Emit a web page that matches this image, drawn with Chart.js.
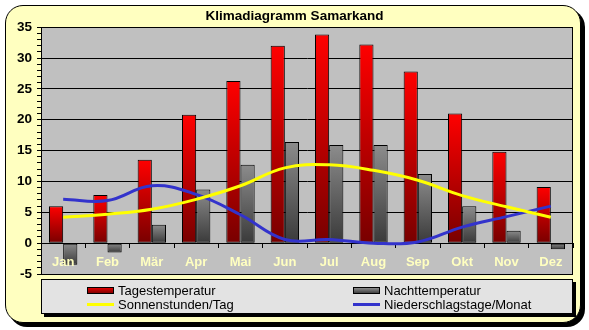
<!DOCTYPE html>
<html>
<head>
<meta charset="utf-8">
<script src="https://cdn.jsdelivr.net/npm/chart.js@4/dist/chart.umd.min.js"></script>
<style>
  html, body { margin: 0; padding: 0; background: #ffffff; }
  #wrap { position: relative; width: 589px; height: 330px; overflow: hidden; font-family: "Liberation Sans", Arial, sans-serif; }
  #frame { position: absolute; left: 5px; top: 5px; width: 574px; height: 316px; border: 1px solid #000; border-radius: 18px; background: #ffffc0; box-shadow: 4px 4px 0 #000; }
  #chart { position: absolute; left: 0; top: 0; }
  #legend { position: absolute; left: 41px; top: 279px; width: 530px; height: 33px; border: 1px solid #000; background: #e3e3e3; box-shadow: 3px 3px 0 #000; }
  .li { position: absolute; height: 14px; display: flex; align-items: center; font-size: 13px; color: #000; white-space: nowrap; }
  .sym { width: 27px; margin-right: 4px; box-sizing: border-box; }
</style>
</head>
<body>
<div id="wrap">
  <div id="frame"></div>
  <canvas id="chart" width="589" height="330"></canvas>
  <div id="legend"></div>
</div>
<script>
const months = ['Jan', 'Feb', 'Mär', 'Apr', 'Mai', 'Jun', 'Jul', 'Aug', 'Sep', 'Okt', 'Nov', 'Dez'];
const tagesTemp = [6.0, 7.8, 13.5, 20.8, 26.3, 32.0, 33.8, 32.2, 27.8, 21.0, 14.8, 9.1];
const nachtTemp = [-3.5, -1.5, 3.0, 8.7, 12.7, 16.4, 15.9, 15.9, 11.2, 6.0, 2.0, -1.0];
const sonnenstunden = [4.2, 4.7, 5.5, 7.1, 9.3, 12.2, 12.7, 11.8, 10.2, 7.7, 5.9, 4.2];
const niederschlagstage = [7.1, 6.9, 9.3, 7.9, 4.6, 0.6, 0.6, 0.0, 0.2, 2.6, 4.3, 6.0];
const yTicks = [-5, 0, 5, 10, 15, 20, 25, 30, 35];

function barGradient(topColor, bottomColor, fallback) {
  return function (ctx) {
    const chart = ctx.chart;
    if (!chart.chartArea || !chart.scales.y || ctx.dataIndex === undefined) return fallback;
    const v = ctx.raw;
    const ys = chart.scales.y;
    const t = ys.getPixelForValue(Math.max(v, 0));
    const b = ys.getPixelForValue(Math.min(v, 0));
    if (!isFinite(t) || !isFinite(b) || Math.abs(b - t) < 1) return fallback;
    const g = chart.ctx.createLinearGradient(0, t, 0, b);
    g.addColorStop(0, topColor);
    g.addColorStop(1, bottomColor);
    return g;
  };
}

const frameBg = {
  id: 'frameBg',
  beforeDraw(chart) {
    const a = chart.chartArea;
    const c = chart.ctx;
    c.save();
    c.fillStyle = '#c0c0c0';
    c.fillRect(a.left, a.top, a.right - a.left, a.bottom - a.top);
    c.restore();
  },
  afterDraw(chart) {
    const a = chart.chartArea;
    const c = chart.ctx;
    c.save();
    c.strokeStyle = '#000';
    c.lineWidth = 1;
    c.strokeRect(Math.round(a.left) + 0.5, Math.round(a.top) + 0.5, Math.round(a.right - a.left) - 1, Math.round(a.bottom - a.top));
    c.restore();
  }
};

const chart = new Chart(document.getElementById('chart'), {
  type: 'bar',
  data: {
    labels: months,
    datasets: [
      { type: 'bar', label: 'Tagestemperatur', data: tagesTemp, order: 2,
        backgroundColor: barGradient('#ff0000', '#780000', '#c00000'), legendColor: 'linear-gradient(#e00000,#800000)',
        borderColor: '#000', borderWidth: 1, borderSkipped: false, barPercentage: 1, categoryPercentage: 0.64 },
      { type: 'bar', label: 'Nachttemperatur', data: nachtTemp, order: 2,
        backgroundColor: barGradient('#8c8c8c', '#3a3a3a', '#666666'), legendColor: 'linear-gradient(#8c8c8c,#404040)',
        borderColor: '#000', borderWidth: 1, borderSkipped: false, barPercentage: 1, categoryPercentage: 0.64 },
      { type: 'line', label: 'Sonnenstunden/Tag', data: sonnenstunden, order: 1,
        borderColor: '#ffff00', backgroundColor: '#ffff00', borderWidth: 3, pointRadius: 0, tension: 0.4, fill: false },
      { type: 'line', label: 'Niederschlagstage/Monat', data: niederschlagstage, order: 1,
        borderColor: '#3333cc', backgroundColor: '#3333cc', borderWidth: 3, pointRadius: 0, tension: 0.4, fill: false }
    ]
  },
  options: {
    responsive: false,
    animation: false,
    layout: { padding: { left: 16, right: 16, top: 0, bottom: 56 } },
    plugins: {
      legend: { display: false },
      tooltip: { enabled: false },
      title: {
        display: true, text: 'Klimadiagramm Samarkand', color: '#000',
        font: { family: '"Liberation Sans", Arial, sans-serif', size: 13.5, weight: 'bold' },
        padding: { top: 8, bottom: 3 }
      }
    },
    scales: {
      x: {
        type: 'category',
        position: { y: 0 },
        offset: true,
        grid: { display: true, drawOnChartArea: false, offset: true, tickLength: 4, tickColor: '#000', color: '#000' },
        border: { display: true, color: '#000', width: 1 },
        ticks: { z: 1, color: '#ffffc0', padding: 7, maxRotation: 0, autoSkip: false,
          font: { family: '"Liberation Sans", Arial, sans-serif', size: 13, weight: 'bold' } }
      },
      y: {
        min: -5, max: 35,
        afterFit(scale) { scale.width = 25; },
        afterBuildTicks(scale) {
          const t = [];
          for (let v = -5; v <= 35; v++) t.push({ value: v });
          scale.ticks = t;
        },
        grid: {
          color: (ctx) => (ctx.tick && yTicks.includes(ctx.tick.value)) ? '#000' : 'rgba(0,0,0,0)',
          tickColor: '#000', tickLength: 4, lineWidth: 1
        },
        border: { display: true, color: '#000', width: 1 },
        ticks: {
          autoSkip: false, padding: 5, color: '#000',
          callback: (v) => yTicks.includes(v) ? String(v) : '',
          font: { family: '"Liberation Sans", Arial, sans-serif', size: 13.5, weight: 'bold' }
        }
      }
    }
  },
  plugins: [frameBg]
});

// HTML legend built from the chart's datasets (two columns, two rows)
const legendEl = document.getElementById('legend');
const pos = [[45, 3], [311, 3], [45, 17], [311, 17]];
chart.data.datasets.forEach((ds, i) => {
  const p = pos[i];
  const item = document.createElement('div');
  item.className = 'li';
  item.style.left = p[0] + 'px';
  item.style.top = p[1] + 'px';
  const sym = document.createElement('span');
  sym.className = 'sym';
  if (ds.type === 'bar') {
    sym.style.height = '7px';
    sym.style.border = '1px solid #000';
    sym.style.background = ds.legendColor;
  } else {
    sym.style.height = '3px';
    sym.style.background = ds.borderColor;
  }
  const txt = document.createElement('span');
  txt.textContent = ds.label;
  item.appendChild(sym);
  item.appendChild(txt);
  legendEl.appendChild(item);
});
</script>
</body>
</html>
